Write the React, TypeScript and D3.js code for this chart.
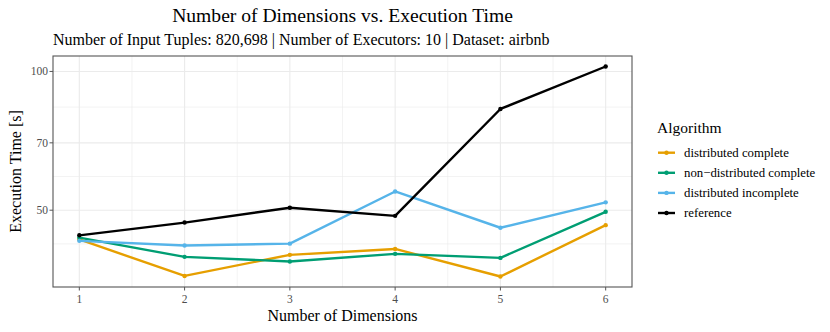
import React from "react";
import * as d3 from "d3";

const dimensions = [1, 2, 3, 4, 5, 6];
const seriesNames = ["distributed complete", "non\u2212distributed complete", "distributed incomplete", "reference"];
const distributedComplete = [43.2, 36.0, 40.0, 41.2, 35.9, 46.4];
const nonDistributedComplete = [43.6, 39.6, 38.7, 40.2, 39.4, 49.6];
const distributedIncomplete = [42.9, 41.9, 42.3, 54.9, 45.8, 52.0];
const referenceTimes = [44.1, 47.0, 50.6, 48.6, 82.9, 102.5];
const yTicks = [50, 70, 100];
const colors = ["#E69F00", "#009E73", "#56B4E9", "#000000"];

const W = 830, H = 332;
const panel = { left: 53, right: 632, top: 56, bottom: 287 };
const serif = "'Liberation Serif', 'DejaVu Serif', serif";

export default function App() {
  const allSeries = [distributedComplete, nonDistributedComplete, distributedIncomplete, referenceTimes];
  const allVals = allSeries.flat();
  const lmin = Math.log10(d3.min(allVals)!);
  const lmax = Math.log10(d3.max(allVals)!);
  const pad = (lmax - lmin) * 0.05;
  const y = d3.scaleLog().domain([Math.pow(10, lmin - pad), Math.pow(10, lmax + pad)]).range([panel.bottom, panel.top]);
  const xr = (6 - 1) * 0.05;
  const x = d3.scaleLinear().domain([1 - xr, 6 + xr]).range([panel.left, panel.right]);

  const lt = yTicks.map(Math.log10);
  const minorY: number[] = [];
  for (let i = 0; i < lt.length - 1; i++) minorY.push((lt[i] + lt[i + 1]) / 2);
  minorY.push(lt[0] - (lt[1] - lt[0]) / 2);
  minorY.push(lt[0] - (lt[1] - lt[0]) * 1.5);
  const minorYVals = minorY.map((l) => Math.pow(10, l)).filter((v) => y(v) <= panel.bottom && y(v) >= panel.top);
  const minorX = dimensions.slice(0, -1).map((d) => d + 0.5);

  const line = d3.line<number>().x((_, i) => x(dimensions[i])).y((v) => y(v));

  return (
    <svg width={W} height={H} style={{ position: "fixed", left: 0, top: 0 }} fontFamily={serif}>
      <rect x={0} y={0} width={W} height={H} fill="white" />
      <text x={(panel.left + panel.right) / 2} y={22} textAnchor="middle" fontSize={19.6} fill="#000">
        Number of Dimensions vs. Execution Time
      </text>
      <text x={panel.left} y={45} fontSize={16} fill="#000">
        Number of Input Tuples: 820,698 | Number of Executors: 10 | Dataset: airbnb
      </text>
      {minorYVals.map((v, i) => (
        <line key={"my" + i} x1={panel.left} x2={panel.right} y1={y(v)} y2={y(v)} stroke="#EBEBEB" strokeWidth={0.6} />
      ))}
      {minorX.map((v, i) => (
        <line key={"mx" + i} y1={panel.top} y2={panel.bottom} x1={x(v)} x2={x(v)} stroke="#EBEBEB" strokeWidth={0.6} />
      ))}
      {yTicks.map((v) => (
        <line key={"gy" + v} x1={panel.left} x2={panel.right} y1={y(v)} y2={y(v)} stroke="#EBEBEB" strokeWidth={1.1} />
      ))}
      {dimensions.map((v) => (
        <line key={"gx" + v} y1={panel.top} y2={panel.bottom} x1={x(v)} x2={x(v)} stroke="#EBEBEB" strokeWidth={1.1} />
      ))}
      {allSeries.map((s, si) => (
        <g key={"s" + si}>
          <path d={line(s)!} fill="none" stroke={colors[si]} strokeWidth={2.4} strokeLinejoin="round" />
          {s.map((v, i) => (
            <circle key={i} cx={x(dimensions[i])} cy={y(v)} r={2.2} fill={colors[si]} />
          ))}
        </g>
      ))}
      <rect x={panel.left} y={panel.top} width={panel.right - panel.left} height={panel.bottom - panel.top} fill="none" stroke="#555" strokeWidth={1.1} />
      {yTicks.map((v) => (
        <g key={"yt" + v}>
          <line x1={panel.left - 3.5} x2={panel.left} y1={y(v)} y2={y(v)} stroke="#555" strokeWidth={1} />
          <text x={panel.left - 5} y={y(v)} dy="0.35em" textAnchor="end" fontSize={11.5} fill="#4D4D4D">
            {v}
          </text>
        </g>
      ))}
      {dimensions.map((v) => (
        <g key={"xt" + v}>
          <line x1={x(v)} x2={x(v)} y1={panel.bottom} y2={panel.bottom + 3.5} stroke="#555" strokeWidth={1} />
          <text x={x(v)} y={panel.bottom + 15.5} textAnchor="middle" fontSize={11.5} fill="#4D4D4D">
            {v}
          </text>
        </g>
      ))}
      <text x={(panel.left + panel.right) / 2} y={321} textAnchor="middle" fontSize={16} fill="#000">
        Number of Dimensions
      </text>
      <text transform={`translate(21,${(panel.top + panel.bottom) / 2}) rotate(-90)`} textAnchor="middle" fontSize={16} fill="#000">
        Execution Time [s]
      </text>
      <text x={657} y={133} fontSize={15.5} fill="#000">Algorithm</text>
      {seriesNames.map((n, i) => {
        const ly = 152.7 + i * 20.1;
        return (
          <g key={"l" + i}>
            <line x1={658} x2={675} y1={ly} y2={ly} stroke={colors[i]} strokeWidth={2.4} />
            <circle cx={666.5} cy={ly} r={2.2} fill={colors[i]} />
            <text x={684} y={ly} dy="0.35em" fontSize={12.8} fill="#000">{n}</text>
          </g>
        );
      })}
    </svg>
  );
}
